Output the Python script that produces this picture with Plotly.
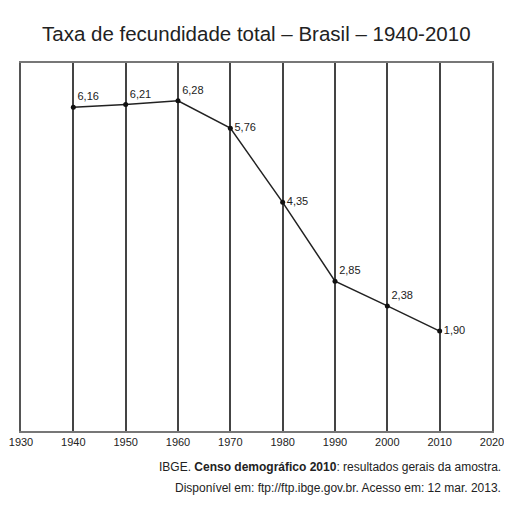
import plotly.graph_objects as go

anos = [1940, 1950, 1960, 1970, 1980, 1990, 2000, 2010]
taxa = [6.16, 6.21, 6.28, 5.76, 4.35, 2.85, 2.38, 1.90]
rotulos = ["6,16", "6,21", "6,28", "5,76", "4,35", "2,85", "2,38", "1,90"]
posicoes = ["top right", "top right", "top right", "middle right",
            "middle right", "top right", "top right", "middle right"]

fonte = "Liberation Sans, Arial, sans-serif"

fig = go.Figure()
fig.add_trace(go.Scatter(
    x=anos, y=taxa, mode="lines+markers+text",
    text=rotulos, textposition=posicoes,
    textfont=dict(family=fonte, size=11, color="#222"),
    line=dict(color="#222", width=1.5),
    marker=dict(color="#111", size=5),
    cliponaxis=False,
    showlegend=False,
))

fig.update_xaxes(
    range=[1930, 2020], tick0=1930, dtick=10,
    showgrid=True, gridcolor="#444", gridwidth=1.5,
    showline=True, linecolor="#777", linewidth=2, mirror=True,
    ticks="", zeroline=False, automargin=False,
    tickfont=dict(family=fonte, size=11, color="#222"),
)
fig.update_yaxes(
    range=[0, 7], showgrid=False, showticklabels=False,
    showline=True, linecolor="#555", linewidth=1.5, mirror=True,
    ticks="", zeroline=False, automargin=False,
)

# titulo
fig.add_annotation(
    text="Taxa de fecundidade total – Brasil – 1940-2010",
    xref="paper", yref="paper", x=0.5, y=1, yshift=30, yanchor="middle",
    showarrow=False,
    font=dict(family=fonte, size=20.5, color="#222"),
)
# fonte dos dados
fig.add_annotation(
    text="IBGE. <b>Censo demográfico 2010</b>: resultados gerais da amostra.",
    xref="paper", yref="paper", x=1.0234, y=0, yshift=-36,
    xanchor="right", yanchor="middle", showarrow=False,
    font=dict(family=fonte, size=12, color="#222"),
)
fig.add_annotation(
    text="Disponível em: ftp://ftp.ibge.gov.br. Acesso em: 12 mar. 2013.",
    xref="paper", yref="paper", x=1.0234, y=0, yshift=-57,
    xanchor="right", yanchor="middle", showarrow=False,
    font=dict(family=fonte, size=12, color="#222"),
)

# a pagina tem margem de 8px no body
fig.update_layout(
    width=504, height=504,
    margin=dict(l=13, r=20, t=55, b=81, autoexpand=False),
    plot_bgcolor="white", paper_bgcolor="white",
)

fig.write_html("out.html")
